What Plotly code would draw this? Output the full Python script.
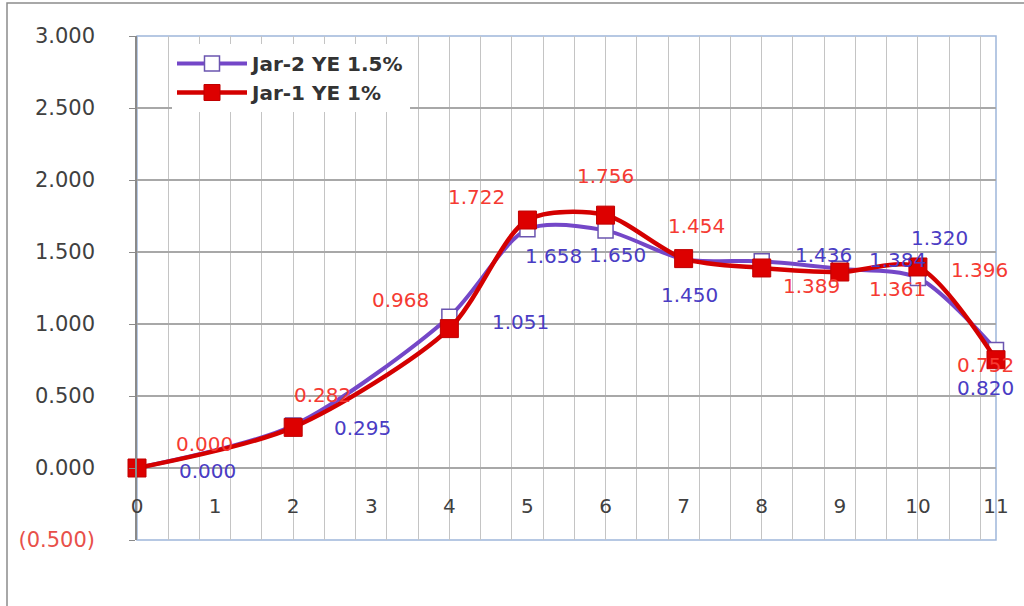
import plotly.graph_objects as go

# Sampling days
days = [0, 2, 4, 5, 6, 7, 8, 9, 10, 11]

# Series values
jar2_values = [0.000, 0.295, 1.051, 1.658, 1.650, 1.450, 1.436, 1.384, 1.320, 0.820]
jar1_values = [0.000, 0.282, 0.968, 1.722, 1.756, 1.454, 1.389, 1.361, 1.396, 0.752]

jar2_name = "Jar-2 YE 1.5%"
jar1_name = "Jar-1 YE 1%"

# Axis ticks
y_tick_vals = [-0.5, 0.0, 0.5, 1.0, 1.5, 2.0, 2.5, 3.0]
y_tick_text = ["<span style='color:#e8504a'>(0.500)</span>", "0.000", "0.500", "1.000",
               "1.500", "2.000", "2.500", "3.000"]
x_tick_vals = list(range(0, 12))

# Pixel offsets of each value label from its point (dx right, dy down)
jar2_label_dx = [70, 69, 71, 26, 12, 6, 62, 58, 22, -11]
jar2_label_dy = [3, 2, 5, 27, 25, 36, -6, -9, -40, 38]
jar1_label_dx = [67, 29, -49, -51, 0, 13, 50, 58, 62, -11]
jar1_label_dy = [-24, -32, -29, -23, -39, -33, 18, 17, 3, 5]

FONT = "DejaVu Sans"
PURPLE = "#7447c8"
LABEL_BLUE = "#4a3cc4"
RED = "#d40000"
LABEL_RED = "#f53a32"

fig = go.Figure()

fig.add_trace(go.Scatter(
    x=days, y=jar2_values, name=jar2_name,
    mode="lines+markers",
    line=dict(color=PURPLE, width=4, shape="spline", smoothing=0.8),
    marker=dict(symbol="square", size=15, color="white",
                line=dict(color="#6b55b0", width=1.5)),
    cliponaxis=False,
))

fig.add_trace(go.Scatter(
    x=days, y=jar1_values, name=jar1_name,
    mode="lines+markers",
    line=dict(color=RED, width=4.5, shape="spline", smoothing=0.8),
    marker=dict(symbol="square", size=18, color="#dd0000",
                line=dict(color="#c00000", width=1)),
    cliponaxis=False,
))

# Value labels
for xs, ys, dxs, dys, col in [
    (days, jar2_values, jar2_label_dx, jar2_label_dy, LABEL_BLUE),
    (days, jar1_values, jar1_label_dx, jar1_label_dy, LABEL_RED),
]:
    for xv, yv, dx, dy in zip(xs, ys, dxs, dys):
        fig.add_annotation(
            x=xv, y=yv, text=f"{yv:.3f}", showarrow=False,
            xshift=dx, yshift=-dy,
            font=dict(family=FONT, size=20, color=col),
        )

# Outer chart frame and plot-area border
L, R, T, B = 137, 28, 36, 66
W, H = 1024, 606
pw, ph = W - L - R, H - T - B
fig.add_shape(type="rect", xref="paper", yref="paper",
              x0=(7 - L) / pw, x1=(W + 20 - L) / pw,
              y0=-(B + 20) / ph, y1=1 + (T - 3) / ph,
              line=dict(color="#8c8c8c", width=1.5), layer="below")
fig.add_shape(type="rect", xref="paper", yref="paper",
              x0=0, x1=1, y0=0, y1=1,
              line=dict(color="#9fb6da", width=1.5), layer="below")

fig.update_layout(
    width=W, height=H,
    margin=dict(l=L, r=R, t=T, b=B, pad=0),
    paper_bgcolor="white", plot_bgcolor="white",
    font=dict(family=FONT, color="#404040"),
    showlegend=True,
    legend=dict(
        x=(172 - L) / pw, y=1 - (44 - T) / ph, xanchor="left", yanchor="top",
        bgcolor="white", borderwidth=0,
        font=dict(family=FONT, size=20, color="#333333", weight="bold"),
        itemwidth=70, tracegroupgap=0,
    ),
    xaxis=dict(
        range=[0, 11], anchor="free", position=0.5 / 3.5,
        tickvals=x_tick_vals, ticktext=[str(v) for v in x_tick_vals],
        ticks="", showline=False, showgrid=False, zeroline=False,
        ticklabelstandoff=24,
        tickfont=dict(family=FONT, size=20, color="#404040"),
        minor=dict(dtick=0.4, tick0=0, showgrid=True, gridcolor="#c4c4c4", gridwidth=1.3),
    ),
    yaxis=dict(
        range=[-0.5, 3.0], tickvals=y_tick_vals, ticktext=y_tick_text,
        showgrid=True, gridcolor="#a8a8a8", gridwidth=1.5,
        zeroline=False,
        showline=True, linecolor="#8a8a8a", linewidth=1.5,
        ticks="outside", ticklen=6, tickcolor="#8a8a8a",
        ticklabelstandoff=30,
        tickfont=dict(family=FONT, size=21, color="#404040"),
    ),
)

fig.write_html("out.html")
